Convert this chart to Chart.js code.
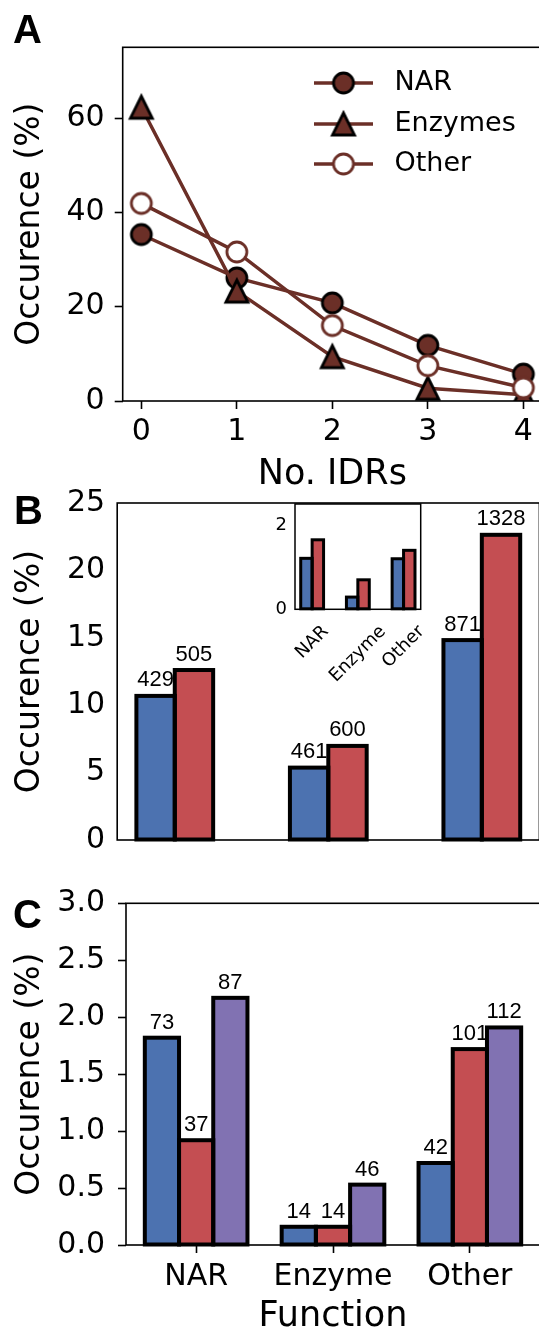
<!DOCTYPE html>
<html>
<head>
<meta charset="utf-8">
<script src="https://cdn.jsdelivr.net/npm/chart.js@4.4.1/dist/chart.umd.min.js"></script>
<style>
html,body{margin:0;padding:0;background:#fff;overflow:hidden;width:539px;height:1330px}
#wrap{position:relative;width:539px;height:1330px;overflow:hidden;background:#fff}
canvas{position:absolute;left:0}
.pl{position:absolute;font:bold 40px "Liberation Sans",Arial,sans-serif;line-height:1;color:#000}
</style>
</head>
<body>
<div id="wrap">
  <canvas id="cA" style="top:0px"></canvas>
  <canvas id="cB" style="top:470px"></canvas>
  <canvas id="cIn" style="top:480px;left:250px"></canvas>
  <canvas id="cC" style="top:860px"></canvas>
  <div class="pl" style="left:13px;top:9px">A</div>
  <div class="pl" style="left:14px;top:490px">B</div>
  <div class="pl" style="left:13px;top:894px">C</div>
</div>
<script>
// ---------------- DATA ----------------
const idrCounts = [0, 1, 2, 3, 4];
const seriesNames = ['NAR', 'Enzymes', 'Other'];
const narOcc = [35.3, 26.1, 20.8, 11.8, 5.7];
const enzymeOcc = [62.3, 23.3, 9.4, 2.7, 1.3];
const otherOcc = [41.9, 31.6, 16.0, 7.5, 2.8];
const aYTicks = [0, 20, 40, 60];

const functions = ['NAR', 'Enzyme', 'Other'];
const bBlue = [10.69, 5.37, 14.83];
const bRed = [12.61, 6.98, 22.64];
const bBlueCounts = [429, 461, 871];
const bRedCounts = [505, 600, 1328];
const bYTicks = [0, 5, 10, 15, 20, 25];

const insetBlue = [1.21, 0.29, 1.20];
const insetRed = [1.65, 0.70, 1.40];
const insetYTicks = [0, 2];

const cBlue = [1.82, 0.16, 0.72];
const cRed = [0.92, 0.16, 1.72];
const cPurple = [2.17, 0.53, 1.91];
const cBlueCounts = [73, 14, 42];
const cRedCounts = [37, 14, 101];
const cPurpleCounts = [87, 46, 112];
const cYTicks = [0, 0.5, 1.0, 1.5, 2.0, 2.5, 3.0];

// ---------------- STYLE ----------------
const DV = '"DejaVu Sans", sans-serif';
const AR = '"Liberation Sans", Arial, sans-serif';
const BROWN = '#6b2f27';
const BLUE = '#4c72b0', RED = '#c44e52', PURPLE = '#8172b2';
const CW = 548;

function sizeCanvas(id, w, h) {
  const c = document.getElementById(id);
  c.width = w; c.height = h; c.style.width = w + 'px'; c.style.height = h + 'px';
  return c;
}
function fixTicks(arr) { return s => { s.ticks = arr.map(v => ({ value: v })); }; }

function circleMarker(fill, stroke) {
  const c = document.createElement('canvas'); c.width = 28; c.height = 28;
  const g = c.getContext('2d');
  g.beginPath(); g.arc(14, 14, 10, 0, Math.PI * 2);
  g.fillStyle = fill; g.fill(); g.lineWidth = 2.8; g.strokeStyle = stroke; g.stroke();
  return c;
}
function triMarker(fill, stroke) {
  const c = document.createElement('canvas'); c.width = 36; c.height = 36;
  const g = c.getContext('2d');
  g.beginPath(); g.moveTo(18, 7); g.lineTo(7, 29); g.lineTo(29, 29); g.closePath();
  g.fillStyle = fill; g.fill(); g.lineWidth = 2.8; g.lineJoin = 'miter'; g.strokeStyle = stroke; g.stroke();
  return c;
}
const markers = [circleMarker(BROWN, '#000'), triMarker(BROWN, '#000'), circleMarker('#fff', BROWN)];

// ---------------- PLUGINS ----------------
const boxPlugin = {
  id: 'box',
  afterDraw(chart, args, o) {
    const a = chart.chartArea, c = chart.ctx;
    c.save(); c.strokeStyle = '#000'; c.lineWidth = o.width || 1.6;
    c.strokeRect(a.left, a.top, a.right - a.left, a.bottom - a.top);
    c.restore();
  }
};
const outlinePlugin = {
  id: 'outline',
  afterDatasetsDraw(chart, args, o) {
    const c = chart.ctx;
    c.save(); c.lineWidth = o.width; c.strokeStyle = '#000'; c.lineJoin = 'miter';
    chart.data.datasets.forEach((ds, i) => {
      chart.getDatasetMeta(i).data.forEach(el => {
        const p = el.getProps(['x', 'y', 'base', 'width'], true);
        c.strokeRect(p.x - p.width / 2, Math.min(p.y, p.base), p.width, Math.abs(p.base - p.y));
      });
    });
    c.restore();
  }
};
const valueLabelPlugin = {
  id: 'vlabels',
  afterDraw(chart, args, o) {
    if (!o.counts) return;
    const c = chart.ctx;
    c.save(); c.fillStyle = '#000'; c.font = o.font; c.textAlign = 'center'; c.textBaseline = 'alphabetic';
    o.counts.forEach((arr, i) => {
      chart.getDatasetMeta(i).data.forEach((el, j) => {
        const p = el.getProps(['x', 'y'], true);
        c.fillText(String(arr[j]), p.x, p.y - o.offset);
      });
    });
    c.restore();
  }
};
const legendPlugin = {
  id: 'lineLegend',
  afterDraw(chart, args, o) {
    if (!o.items) return;
    const c = chart.ctx;
    c.save();
    o.items.forEach((it, i) => {
      const y = o.ys[i];
      c.strokeStyle = BROWN; c.lineWidth = 3.5; c.lineCap = 'butt';
      c.beginPath(); c.moveTo(o.x0, y); c.lineTo(o.x1, y); c.stroke();
      const m = it.marker;
      c.drawImage(m, (o.x0 + o.x1) / 2 - m.width / 2, y - m.height / 2);
      c.fillStyle = '#000'; c.font = o.font; c.textAlign = 'left'; c.textBaseline = 'middle';
      c.fillText(it.text, o.tx, y);
    });
    c.restore();
  }
};
const rotLabelPlugin = {
  id: 'rotlabels',
  afterDraw(chart, args, o) {
    if (!o.labels) return;
    const c = chart.ctx, xs = chart.scales.x, a = chart.chartArea;
    c.save(); c.fillStyle = '#000'; c.font = o.font;
    const h = o.size * 1.17, k = Math.SQRT1_2;
    o.labels.forEach((t, i) => {
      const w = c.measureText(t).width;
      const H = (w + h) * k;
      const cx = xs.getPixelForValue(i), cy = a.bottom + o.pad + H / 2;
      c.save(); c.translate(cx, cy); c.rotate(-Math.PI / 4);
      c.textAlign = 'center'; c.textBaseline = 'middle';
      c.fillText(t, 0, 0);
      c.restore();
    });
    c.restore();
  }
};

const tickFont = { family: DV, size: 30 };
const yTitleFont = { family: DV, size: 33 };
const xTitleFont = { family: DV, size: 35 };
const valFont = '22px ' + AR;

// ---------------- PANEL A ----------------
const hA = 495;
sizeCanvas('cA', CW, hA);
const lineSeries = [narOcc, enzymeOcc, otherOcc];
new Chart(document.getElementById('cA'), {
  type: 'line',
  data: {
    datasets: lineSeries.map((vals, i) => ({
      label: seriesNames[i],
      data: idrCounts.map((x, j) => ({ x: x, y: vals[j] })),
      borderColor: BROWN, borderWidth: 3.5, backgroundColor: BROWN,
      pointStyle: markers[i], pointRadius: 11, pointHoverRadius: 11,
      tension: 0, fill: false, order: 3 - i, clip: 0
    }))
  },
  options: {
    responsive: false, animation: false, devicePixelRatio: 1, events: [],
    layout: { autoPadding: false, padding: { left: 0, top: 47.3, right: CW - 542, bottom: 0 } },
    plugins: {
      legend: { display: false }, tooltip: { enabled: false },
      box: { width: 1.6 },
      lineLegend: {
        items: seriesNames.map((n, i) => ({ text: n, marker: markers[i] })),
        x0: 314, x1: 373, tx: 394.5, ys: [83, 124, 164], font: '27px ' + DV
      }
    },
    scales: {
      x: {
        type: 'linear', min: -0.195, max: 4.195, bounds: 'data',
        afterBuildTicks: fixTicks(idrCounts),
        afterFit: s => { s.height = hA - 401; },
        ticks: { font: tickFont, color: '#000', padding: 5, autoSkip: false, maxRotation: 0, minRotation: 0, callback: v => String(v) },
        grid: { display: true, offset: false, drawOnChartArea: false, drawTicks: true, tickLength: 8, tickWidth: 1.6, color: '#000' },
        border: { display: false },
        title: { display: true, text: 'No. IDRs', font: xTitleFont, color: '#000', padding: { top: 0, bottom: -1 } }
      },
      y: {
        type: 'linear', min: 0, max: 75, bounds: 'data',
        afterBuildTicks: fixTicks(aYTicks),
        afterFit: s => { s.width = 122.7; },
        ticks: { font: tickFont, color: '#000', padding: 10, callback: v => String(v) },
        grid: { display: true, drawOnChartArea: false, drawTicks: true, tickLength: 8, tickWidth: 1.6, color: '#000' },
        border: { display: false },
        title: { display: true, text: 'Occurence (%)', font: yTitleFont, color: '#000', padding: { top: 10.2, bottom: 0 } }
      }
    }
  },
  plugins: [boxPlugin, legendPlugin]
});

// ---------------- PANEL B ----------------
const topB = 470, hB = 400;
sizeCanvas('cB', CW, hB);
new Chart(document.getElementById('cB'), {
  type: 'bar',
  data: {
    datasets: [
      { label: 'blue', data: functions.map((f, i) => ({ x: i, y: bBlue[i] })), backgroundColor: BLUE, borderWidth: 0 },
      { label: 'red', data: functions.map((f, i) => ({ x: i, y: bRed[i] })), backgroundColor: RED, borderWidth: 0 }
    ]
  },
  options: {
    responsive: false, animation: false, devicePixelRatio: 1, events: [],
    categoryPercentage: 0.5, barPercentage: 1,
    layout: { autoPadding: false, padding: { left: 0, top: 503 - topB, right: CW - 539.4, bottom: 0 } },
    plugins: {
      legend: { display: false }, tooltip: { enabled: false },
      box: { width: 1.6 }, outline: { width: 4 },
      vlabels: { counts: [bBlueCounts, bRedCounts], offset: 9.5, font: valFont }
    },
    scales: {
      x: {
        type: 'linear', min: -0.375, max: 2.375, bounds: 'data', offset: false,
        afterBuildTicks: fixTicks([0, 1, 2]),
        afterFit: s => { s.height = hB - (853.5 - topB); },
        ticks: { display: false },
        grid: { display: false, offset: false },
        border: { display: false }
      },
      y: {
        type: 'linear', min: 0, max: 25, bounds: 'data',
        afterBuildTicks: fixTicks(bYTicks),
        afterFit: s => { s.width = 117.2; },
        ticks: { font: tickFont, color: '#000', padding: 12, callback: v => String(v) },
        grid: { display: true, drawOnChartArea: false, drawTicks: false, color: '#000' },
        border: { display: false },
        title: { display: true, text: 'Occurence (%)', font: yTitleFont, color: '#000', padding: { top: 10.2, bottom: 0 } }
      }
    }
  },
  plugins: [outlinePlugin, boxPlugin, valueLabelPlugin]
});

// ---------------- INSET (in B) ----------------
const topIn = 480, leftIn = 250, wIn = 200, hIn = 220;
sizeCanvas('cIn', wIn, hIn);
new Chart(document.getElementById('cIn'), {
  type: 'bar',
  data: {
    datasets: [
      { label: 'blue', data: functions.map((f, i) => ({ x: i, y: insetBlue[i] })), backgroundColor: BLUE, borderWidth: 0 },
      { label: 'red', data: functions.map((f, i) => ({ x: i, y: insetRed[i] })), backgroundColor: RED, borderWidth: 0 }
    ]
  },
  options: {
    responsive: false, animation: false, devicePixelRatio: 1, events: [],
    categoryPercentage: 0.5, barPercentage: 1,
    layout: { autoPadding: false, padding: { left: 0, top: 504 - topIn, right: wIn - (420.7 - leftIn), bottom: 0 } },
    plugins: {
      legend: { display: false }, tooltip: { enabled: false },
      box: { width: 1.5 }, outline: { width: 3 },
      rotlabels: { labels: functions, font: '18px ' + DV, size: 18, pad: 12 }
    },
    scales: {
      x: {
        type: 'linear', min: -0.375, max: 2.375, bounds: 'data', offset: false,
        afterBuildTicks: fixTicks([0, 1, 2]),
        afterFit: s => { s.height = hIn - (609.3 - topIn); },
        ticks: { display: false },
        grid: { display: false, offset: false },
        border: { display: false }
      },
      y: {
        type: 'linear', min: 0, max: 2.5, bounds: 'data',
        afterBuildTicks: fixTicks(insetYTicks),
        afterFit: s => { s.width = 295 - leftIn; },
        ticks: { font: { family: DV, size: 18 }, color: '#000', padding: 8, callback: v => String(v) },
        grid: { display: true, drawOnChartArea: false, drawTicks: false, color: '#000' },
        border: { display: false }
      }
    }
  },
  plugins: [outlinePlugin, boxPlugin, rotLabelPlugin]
});

// ---------------- PANEL C ----------------
const topC = 860, hC = 480;
sizeCanvas('cC', CW, hC);
new Chart(document.getElementById('cC'), {
  type: 'bar',
  data: {
    datasets: [
      { label: 'blue', data: functions.map((f, i) => ({ x: i, y: cBlue[i] })), backgroundColor: BLUE, borderWidth: 0 },
      { label: 'red', data: functions.map((f, i) => ({ x: i, y: cRed[i] })), backgroundColor: RED, borderWidth: 0 },
      { label: 'purple', data: functions.map((f, i) => ({ x: i, y: cPurple[i] })), backgroundColor: PURPLE, borderWidth: 0 }
    ]
  },
  options: {
    responsive: false, animation: false, devicePixelRatio: 1, events: [],
    categoryPercentage: 0.75, barPercentage: 1,
    layout: { autoPadding: false, padding: { left: 0, top: 903.3 - topC, right: CW - 540, bottom: 0 } },
    plugins: {
      legend: { display: false }, tooltip: { enabled: false },
      box: { width: 1.6 }, outline: { width: 4 },
      vlabels: { counts: [cBlueCounts, cRedCounts, cPurpleCounts], offset: 9, font: valFont }
    },
    scales: {
      x: {
        type: 'linear', min: -0.5125, max: 2.5125, bounds: 'data', offset: false,
        afterBuildTicks: fixTicks([0, 1, 2]),
        afterFit: s => { s.height = hC - (1245 - topC); },
        ticks: { font: tickFont, color: '#000', padding: 6, autoSkip: false, maxRotation: 0, minRotation: 0, callback: v => functions[v] },
        grid: { display: true, offset: false, drawOnChartArea: false, drawTicks: true, tickLength: 8, tickWidth: 1.6, color: '#000' },
        border: { display: false },
        title: { display: true, text: 'Function', font: xTitleFont, color: '#000', padding: { top: 0, bottom: 2 } }
      },
      y: {
        type: 'linear', min: 0, max: 3, bounds: 'data',
        afterBuildTicks: fixTicks(cYTicks),
        afterFit: s => { s.width = 126; },
        ticks: { font: tickFont, color: '#000', padding: 13, callback: v => v.toFixed(1) },
        grid: { display: true, drawOnChartArea: false, drawTicks: true, tickLength: 8, tickWidth: 1.6, color: '#000' },
        border: { display: false },
        title: { display: true, text: 'Occurence (%)', font: yTitleFont, color: '#000', padding: { top: 10.2, bottom: 0 } }
      }
    }
  },
  plugins: [outlinePlugin, boxPlugin, valueLabelPlugin]
});
</script>
</body>
</html>
